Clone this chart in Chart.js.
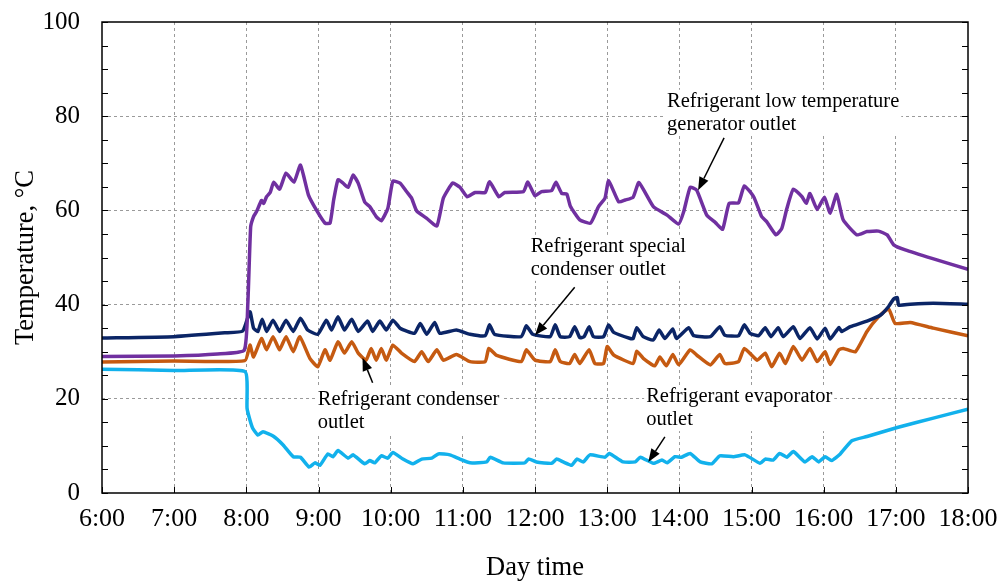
<!DOCTYPE html>
<html>
<head>
<meta charset="utf-8">
<title>Refrigerant temperatures</title>
<script src="https://cdn.jsdelivr.net/npm/chart.js@4.4.1/dist/chart.umd.min.js"></script>
<style>
    html, body { margin: 0; padding: 0; background: #fff; }
    #wrap { width: 1003px; height: 584px; }
</style>
</head>
<body>
<div id="wrap"><canvas id="tempChart" width="1003" height="584"></canvas></div>
<script>
'use strict';

// Time of day in hours, temperature in degC

const genTimes = [6.0, 7.0, 7.6, 7.97, 8.02, 8.06, 8.10, 8.14, 8.21, 8.24, 8.28, 8.33, 8.38, 8.46, 8.55, 8.66, 8.75, 8.86, 8.97, 9.09,
    9.16, 9.21, 9.27, 9.34, 9.41, 9.48, 9.55, 9.64, 9.71, 9.80, 9.87, 9.96, 10.03, 10.13, 10.22, 10.29, 10.36, 10.50, 10.64, 10.73,
    10.86, 10.96, 11.06, 11.17, 11.31, 11.37, 11.50, 11.58, 11.84, 11.90, 12.00, 12.09, 12.23, 12.29, 12.37, 12.44, 12.49, 12.62, 12.77, 12.88,
    12.97, 13.02, 13.16, 13.25, 13.36, 13.44, 13.64, 13.83, 13.99, 14.06, 14.15, 14.24, 14.38, 14.50, 14.60, 14.69, 14.82, 14.90, 15.03, 15.14,
    15.21, 15.34, 15.42, 15.49, 15.58, 15.70, 15.76, 15.81, 15.91, 16.01, 16.09, 16.18, 16.27, 16.46, 16.60, 16.76, 16.88, 16.97, 17.13, 17.5, 18.0];
const genTemps = [29.0, 29.1, 29.5, 30.3, 40.0, 56.5, 58.7, 59.7, 62.1, 61.5, 62.9, 63.8, 66.0, 64.5, 67.9, 66.0, 69.6, 63.3, 60.1, 57.3,
    57.3, 62.2, 66.5, 65.8, 64.9, 67.5, 65.8, 61.8, 60.8, 58.7, 57.8, 60.4, 66.2, 65.8, 64.0, 62.6, 59.9, 58.3, 56.7, 62.6,
    65.8, 64.9, 62.9, 63.8, 63.8, 66.1, 62.9, 63.8, 64.0, 66.0, 63.1, 64.0, 64.2, 66.0, 63.6, 63.5, 60.9, 58.0, 57.3, 60.8,
    62.6, 66.3, 61.8, 62.2, 62.8, 65.9, 60.8, 59.0, 57.1, 59.7, 64.9, 64.3, 59.0, 57.4, 56.0, 61.5, 61.6, 65.2, 62.9, 58.7,
    57.6, 54.8, 56.2, 60.4, 64.5, 62.9, 61.5, 63.6, 60.2, 62.8, 59.4, 63.4, 58.0, 54.8, 55.5, 55.6, 54.8, 52.7, 51.6, 49.8, 47.5];

const specTimes = [6.0, 7.0, 7.7, 7.95, 8.05, 8.10, 8.16, 8.22, 8.28, 8.37, 8.46, 8.55, 8.65, 8.75, 8.85, 8.99, 9.11, 9.18, 9.27, 9.36,
    9.46, 9.55, 9.68, 9.75, 9.85, 9.94, 10.03, 10.13, 10.33, 10.41, 10.50, 10.61, 10.68, 10.91, 11.10, 11.31, 11.37, 11.44, 11.81, 11.88,
    11.97, 12.21, 12.28, 12.35, 12.48, 12.55, 12.62, 12.68, 12.75, 12.81, 12.95, 13.02, 13.09, 13.32, 13.36, 13.41, 13.50, 13.64, 13.72, 13.80,
    13.91, 13.96, 14.13, 14.20, 14.43, 14.56, 14.63, 14.82, 14.90, 14.98, 15.10, 15.19, 15.27, 15.37, 15.44, 15.58, 15.67, 15.81, 15.91, 16.02,
    16.09, 16.21, 16.25, 16.37, 16.60, 16.79, 16.90, 16.97, 17.02, 17.04, 17.20, 17.52, 18.0];
const specTemps = [32.9, 33.2, 34.0, 34.4, 38.5, 35.0, 34.3, 36.9, 34.3, 36.7, 34.3, 36.7, 34.3, 37.1, 34.6, 33.7, 36.7, 34.6, 37.4, 34.6,
    36.9, 34.3, 36.5, 34.3, 36.5, 34.6, 36.7, 35.0, 33.9, 36.0, 33.7, 36.2, 33.9, 34.6, 33.7, 33.4, 35.7, 33.7, 33.2, 35.5,
    33.7, 33.2, 35.7, 33.2, 33.2, 35.3, 33.0, 33.2, 35.3, 33.2, 33.2, 35.7, 34.1, 32.8, 32.8, 35.1, 33.2, 32.5, 34.6, 32.8,
    34.8, 32.8, 35.1, 33.4, 33.2, 35.3, 33.5, 33.4, 35.7, 33.9, 33.4, 35.1, 33.2, 35.1, 33.2, 35.3, 32.8, 35.1, 32.7, 35.0,
    32.7, 35.1, 34.3, 35.3, 36.5, 37.8, 39.6, 41.2, 41.5, 39.9, 40.1, 40.3, 40.1];

const condTimes = [6.0, 7.0, 7.98, 8.05, 8.10, 8.21, 8.28, 8.37, 8.46, 8.55, 8.65, 8.74, 8.88, 8.99, 9.09, 9.16, 9.27, 9.36, 9.46, 9.55,
    9.66, 9.73, 9.80, 9.87, 9.94, 10.03, 10.15, 10.33, 10.43, 10.52, 10.64, 10.73, 10.91, 11.10, 11.31, 11.36, 11.47, 11.81, 11.88, 12.00,
    12.21, 12.28, 12.35, 12.48, 12.55, 12.62, 12.75, 12.83, 12.95, 13.00, 13.09, 13.36, 13.41, 13.50, 13.66, 13.73, 13.82, 13.91, 13.99, 14.15,
    14.24, 14.43, 14.56, 14.63, 14.82, 14.90, 15.08, 15.19, 15.28, 15.39, 15.47, 15.58, 15.70, 15.81, 15.91, 16.02, 16.09, 16.21, 16.27, 16.44,
    16.60, 16.76, 16.90, 16.99, 17.20, 17.52, 18.0];
const condTemps = [27.8, 28.0, 28.1, 31.4, 28.9, 32.8, 30.4, 33.2, 30.4, 33.2, 30.0, 33.2, 28.6, 26.8, 30.4, 28.2, 32.1, 29.7, 32.1, 29.7,
    28.2, 30.7, 28.2, 30.7, 28.2, 31.4, 29.7, 27.9, 30.0, 27.9, 30.4, 28.2, 29.4, 27.9, 27.9, 30.7, 29.2, 27.9, 30.4, 28.2,
    27.9, 30.4, 27.9, 27.5, 29.4, 27.5, 30.4, 27.5, 27.5, 31.1, 29.3, 27.5, 30.1, 28.6, 27.0, 28.9, 27.0, 29.4, 27.2, 30.4,
    29.3, 27.2, 29.4, 27.5, 27.9, 30.7, 28.2, 29.7, 26.8, 29.7, 27.5, 31.1, 28.2, 30.7, 27.9, 30.0, 27.3, 30.4, 30.7, 30.0,
    34.3, 37.4, 39.1, 36.0, 36.2, 35.0, 33.4];

const evapTimes = [6.0, 7.0, 7.98, 8.01, 8.05, 8.09, 8.16, 8.23, 8.37, 8.51, 8.65, 8.75, 8.87, 8.95, 9.02, 9.13, 9.20, 9.27, 9.41, 9.48,
    9.64, 9.71, 9.78, 9.87, 9.96, 10.03, 10.17, 10.31, 10.43, 10.57, 10.66, 10.82, 10.96, 11.10, 11.33, 11.38, 11.56, 11.86, 11.91, 12.02,
    12.23, 12.30, 12.39, 12.51, 12.58, 12.67, 12.76, 12.97, 13.03, 13.22, 13.39, 13.46, 13.64, 13.76, 13.83, 13.94, 14.03, 14.15, 14.29, 14.45,
    14.56, 14.75, 14.91, 15.12, 15.19, 15.30, 15.39, 15.49, 15.58, 15.74, 15.84, 15.93, 16.02, 16.11, 16.23, 16.39, 16.60, 17.02, 17.52, 18.0];
const evapTemps = [26.3, 26.0, 25.8, 18.0, 15.5, 13.7, 12.3, 13.0, 12.1, 10.2, 7.7, 7.6, 5.5, 6.4, 5.9, 8.3, 7.7, 9.0, 7.4, 8.1,
    6.2, 6.9, 6.4, 7.9, 7.4, 8.6, 7.2, 6.2, 7.2, 7.4, 8.3, 8.1, 7.2, 6.4, 6.6, 7.6, 6.4, 6.4, 7.2, 6.6,
    6.3, 7.2, 6.6, 5.9, 7.2, 6.6, 8.1, 7.6, 8.4, 6.6, 6.6, 7.6, 6.3, 7.0, 6.4, 7.7, 7.6, 8.4, 6.6, 6.2,
    7.9, 7.7, 8.1, 6.3, 7.2, 7.0, 8.4, 7.6, 8.8, 6.6, 7.7, 6.6, 7.7, 6.9, 8.3, 11.1, 12.0, 13.9, 15.9, 17.8];

// Callouts: text anchor, arrow tail and arrow tip, all in axis units
const notes = [
    { lines: ['Refrigerant low temperature', 'generator outlet'], at: [13.83, 82.0], tail: [14.62, 75.4], tip: [14.26, 64.3] },
    { lines: ['Refrigerant special', 'condenser outlet'], at: [11.94, 51.2], tail: [12.55, 43.7], tip: [12.0, 33.5] },
    { lines: ['Refrigerant condenser', 'outlet'], at: [8.99, 18.7], tail: [9.75, 23.4], tip: [9.61, 28.7] },
    { lines: ['Refrigerant evaporator', 'outlet'], at: [13.54, 19.3], tail: [13.80, 11.9], tip: [13.57, 6.6] }
];

const SERIF = "'Liberation Serif', 'Times New Roman', serif";

function toPoints(times, temps) {
    return times.map((t, i) => ({ x: t, y: temps[i] }));
}

function series(label, times, temps, color) {
    return {
        label: label,
        data: toPoints(times, temps),
        borderColor: color,
        backgroundColor: color,
        borderWidth: 3.5,
        pointRadius: 0,
        tension: 0.15,
        fill: false
    };
}

function drawArrow(ctx, x0, y0, x1, y1) {
    const ang = Math.atan2(y1 - y0, x1 - x0);
    const len = 13, half = 5;
    const bx = x1 - len * Math.cos(ang), by = y1 - len * Math.sin(ang);
    ctx.beginPath();
    ctx.moveTo(x0, y0);
    ctx.lineTo(bx, by);
    ctx.stroke();
    ctx.beginPath();
    ctx.moveTo(x1, y1);
    ctx.lineTo(bx + half * Math.sin(ang), by - half * Math.cos(ang));
    ctx.lineTo(bx - half * Math.sin(ang), by + half * Math.cos(ang));
    ctx.closePath();
    ctx.fill();
}

// Box frame, inward tick marks and the callouts
const frameAndNotes = {
    id: 'frameAndNotes',
    afterDatasetsDraw(chart) {
        const { ctx, chartArea: a, scales: { x, y } } = chart;
        ctx.save();

        ctx.strokeStyle = '#000';
        ctx.lineWidth = 1;
        ctx.beginPath();
        y.ticks.forEach(t => {
            const py = Math.round(y.getPixelForValue(t.value)) + 0.5;
            ctx.moveTo(a.left, py); ctx.lineTo(a.left + 6, py);
            ctx.moveTo(a.right, py); ctx.lineTo(a.right - 6, py);
        });
        x.ticks.forEach(t => {
            const px = Math.round(x.getPixelForValue(t.value)) + 0.5;
            ctx.moveTo(px, a.bottom); ctx.lineTo(px, a.bottom - 6);
        });
        ctx.stroke();

        ctx.lineWidth = 1.5;
        ctx.strokeRect(a.left, a.top, a.right - a.left, a.bottom - a.top);

        ctx.font = '20.5px ' + SERIF;
        ctx.textBaseline = 'alphabetic';
        ctx.textAlign = 'left';
        const lh = 23;
        notes.forEach(n => {
            const tx = x.getPixelForValue(n.at[0]);
            const ty = y.getPixelForValue(n.at[1]);
            const w = Math.max(...n.lines.map(s => ctx.measureText(s).width));
            ctx.fillStyle = '#fff';
            ctx.fillRect(tx - 2, ty - 17, w + 4, lh * (n.lines.length - 1) + 23);
            ctx.fillStyle = '#000';
            n.lines.forEach((s, i) => ctx.fillText(s, tx, ty + i * lh));

            ctx.lineWidth = 1.5;
            drawArrow(ctx,
                x.getPixelForValue(n.tail[0]), y.getPixelForValue(n.tail[1]),
                x.getPixelForValue(n.tip[0]), y.getPixelForValue(n.tip[1]));
        });

        ctx.restore();
    }
};

const ctx = document.getElementById('tempChart').getContext('2d');

new Chart(ctx, {
    type: 'line',
    data: {
        datasets: [
            series('Refrigerant low temperature generator outlet', genTimes, genTemps, '#7030A0'),
            series('Refrigerant special condenser outlet', specTimes, specTemps, '#0B2566'),
            series('Refrigerant condenser outlet', condTimes, condTemps, '#C55A11'),
            series('Refrigerant evaporator outlet', evapTimes, evapTemps, '#12B1EC')
        ]
    },
    options: {
        responsive: false,
        animation: false,
        devicePixelRatio: 1,
        layout: { padding: { top: 22, right: 35, bottom: 0, left: 0 } },
        plugins: {
            legend: { display: false },
            tooltip: { enabled: false }
        },
        scales: {
            x: {
                type: 'linear',
                min: 6,
                max: 18,
                afterFit(scale) {
                    scale.height = 91;
                    scale.paddingLeft = 0;
                    scale.paddingRight = 0;
                },
                ticks: {
                    stepSize: 1,
                    autoSkip: false,
                    maxRotation: 0,
                    padding: 11,
                    color: '#000',
                    font: { family: SERIF, size: 26 },
                    callback: v => v + ':00'
                },
                grid: {
                    drawTicks: false,
                    lineWidth: 1,
                    color: c => (c.tick && c.tick.value > 6 && c.tick.value < 18) ? '#9a9a9a' : 'rgba(0,0,0,0)'
                },
                border: { display: false, dash: [3, 3] },
                title: {
                    display: true,
                    text: 'Day time',
                    color: '#000',
                    padding: { top: 0, bottom: 0 },
                    font: { family: SERIF, size: 26.5 }
                }
            },
            y: {
                min: 0,
                max: 100,
                afterFit(scale) {
                    scale.width = 102;
                    scale.paddingTop = 0;
                    scale.paddingBottom = 0;
                },
                ticks: {
                    stepSize: 5,
                    autoSkip: false,
                    padding: 22,
                    color: '#000',
                    font: { family: SERIF, size: 25 },
                    callback: v => (v % 20 === 0 ? v : '')
                },
                grid: {
                    drawTicks: false,
                    lineWidth: 1,
                    color: c => (c.tick && c.tick.value % 20 === 0 && c.tick.value > 0 && c.tick.value < 100) ? '#9a9a9a' : 'rgba(0,0,0,0)'
                },
                border: { display: false, dash: [3, 3] },
                title: {
                    display: true,
                    text: 'Temperature, °C',
                    color: '#000',
                    padding: { top: 10, bottom: 0 },
                    font: { family: SERIF, size: 26.5 }
                }
            }
        }
    },
    plugins: [frameAndNotes]
});
</script>
</body>
</html>
